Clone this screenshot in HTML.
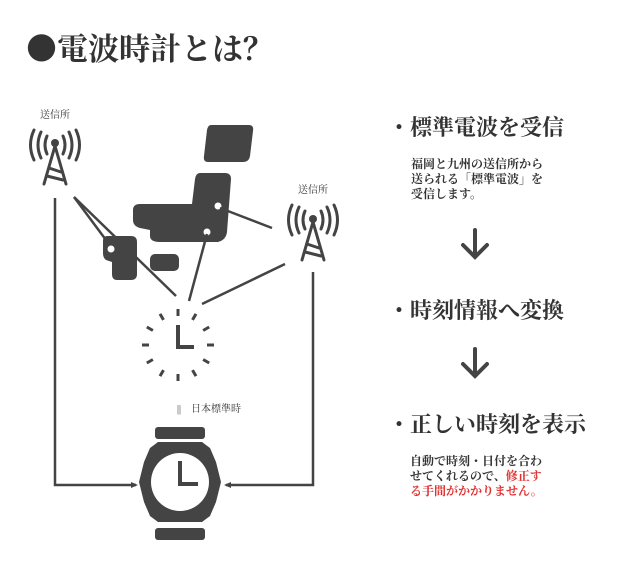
<!DOCTYPE html>
<html><head><meta charset="utf-8"><style>
html,body{margin:0;padding:0;background:#fff;width:640px;height:572px;overflow:hidden}
svg{display:block}
text{font-family:"Liberation Serif","Noto Serif CJK SC",serif;fill:#333}
.cjk{font-family:"Noto Serif CJK SC",serif}
</style></head><body>
<svg width="640" height="572" viewBox="0 0 640 572" xmlns="http://www.w3.org/2000/svg">
<text class="cjk" x="26" y="60" font-size="31" font-weight="bold">●電波時計とは？</text>

<!-- left tower -->
<text x="40" y="118" font-size="10">送信所</text>
<g stroke="#444" stroke-width="3" fill="none" stroke-linecap="round">
<path d="M47,136 Q43,145 47,154"/><path d="M41,132 Q35,145 41,158"/><path d="M34,130 Q27,145 34,160"/>
<path d="M63,136 Q67,145 63,154"/><path d="M69,132 Q75,145 69,158"/><path d="M76,130 Q83,145 76,160"/>
<path d="M44,184 L55,146 L66,184"/><path d="M49,168 L61,172"/><path d="M47,176 L63,180"/>
</g>
<circle cx="55" cy="143" r="4" fill="#444"/>

<!-- right tower -->
<text x="298" y="193" font-size="10">送信所</text>
<g stroke="#444" stroke-width="3" fill="none" stroke-linecap="round">
<path d="M305,211 Q301,220 305,229"/><path d="M299,207 Q293,220 299,233"/><path d="M292,205 Q285,220 292,235"/>
<path d="M321,211 Q325,220 321,229"/><path d="M327,207 Q333,220 327,233"/><path d="M334,205 Q341,220 334,235"/>
<path d="M302,260 L313,222 L324,260"/><path d="M307,244 L319,248"/><path d="M305,252 L321,256"/>
</g>
<circle cx="313" cy="219" r="4" fill="#444"/>

<!-- japan -->
<g fill="#444">
<path d="M211,125 L249,125 Q254,125 253,131 L250,156 Q249,162 243,162 L208,162 Q203,162 204,156 L207,130 Q208,125 211,125Z"/>
<path d="M200,173 L225,173 Q231,173 231,179 L227,232 Q226,240 218,242 L160,242 Q150,242 150,236 L150,230 L140,228 Q133,226 133,220 L133,210 Q133,204 140,204 L192,204 L195,179 Q196,173 200,173Z"/>
<path d="M107,236 L131,236 Q137,236 137,242 L137,274 Q137,280 131,280 L117,280 Q112,280 112,274 L112,262 L106,260 Q103,258 103,253 L103,241 Q103,236 107,236Z"/>
<rect x="150" y="254" width="29" height="17" rx="5"/>
</g>
<g fill="#fff"><circle cx="111" cy="249" r="3.5"/><circle cx="218" cy="206" r="3.5"/><circle cx="207" cy="232" r="3.5"/></g>

<!-- lines -->
<g stroke="#444" stroke-width="2.5" fill="none">
<line x1="74" y1="197" x2="106" y2="240"/>
<line x1="74" y1="197" x2="176" y2="296"/>
<line x1="207" y1="234" x2="189" y2="301"/>
<line x1="220" y1="208" x2="272" y2="228"/>
<line x1="285" y1="264" x2="202" y2="304"/>
<polyline points="55,198 55,485 136,485"/>
<polyline points="313,272 313,485 226,485"/>
</g>
<path d="M138,485 L131,482 L131,488Z" fill="#444"/>
<path d="M224,485 L231,482 L231,488Z" fill="#444"/>

<!-- clock -->
<g stroke="#444" stroke-width="3" transform="translate(178,345)">
<line x1="0" y1="-36" x2="0" y2="-29"/><line x1="0" y1="29" x2="0" y2="36"/>
<line x1="-36" y1="0" x2="-29" y2="0"/><line x1="29" y1="0" x2="36" y2="0"/>
<g transform="rotate(30)"><line x1="0" y1="-36" x2="0" y2="-29"/><line x1="0" y1="29" x2="0" y2="36"/><line x1="-36" y1="0" x2="-29" y2="0"/><line x1="29" y1="0" x2="36" y2="0"/></g>
<g transform="rotate(60)"><line x1="0" y1="-36" x2="0" y2="-29"/><line x1="0" y1="29" x2="0" y2="36"/><line x1="-36" y1="0" x2="-29" y2="0"/><line x1="29" y1="0" x2="36" y2="0"/></g>
</g>
<path d="M178,325 L178,347 L194,347" stroke="#444" stroke-width="4" fill="none"/>

<text x="177" y="412" font-size="10">||　日本標準時</text>

<!-- watch -->
<g fill="#444">
<rect x="155" y="427" width="50" height="12" rx="3"/>
<rect x="155" y="528" width="50" height="12" rx="3"/>
<path d="M158,442 L202,442 L210,448 L216,462 L221,482 L216,502 L210,516 L202,522 L158,522 L150,516 L144,502 L139,482 L144,462 L150,448Z"/>
</g>
<circle cx="180" cy="482" r="29" fill="#fff"/>
<path d="M180,461 L180,484 L198,484" stroke="#444" stroke-width="4" fill="none"/>

<!-- right texts -->
<text x="388" y="135" font-size="22" font-weight="bold">・標準電波を受信</text>
<g font-size="12" font-weight="bold">
<text x="411" y="168">福岡と九州の送信所から</text>
<text x="411" y="183">送られる「標準電波」を</text>
<text x="411" y="198">受信します。</text>
</g>
<g stroke="#444" stroke-width="4" fill="none" stroke-linecap="round">
<path d="M475,230 L475,257 M463,245 L475,257 L487,245"/>
<path d="M475,349 L475,376 M463,364 L475,376 L487,364"/>
</g>
<text x="388" y="318" font-size="22" font-weight="bold">・時刻情報へ変換</text>
<text x="388" y="432" font-size="22" font-weight="bold">・正しい時刻を表示</text>
<g font-size="12" font-weight="bold">
<text x="410" y="465">自動で時刻・日付を合わ</text>
<text x="410" y="480">せてくれるので、<tspan style="fill:#e03030">修正す</tspan></text>
<text x="410" y="495" style="fill:#e03030">る手間がかかりません。</text>
</g>
</svg>
</body></html>
